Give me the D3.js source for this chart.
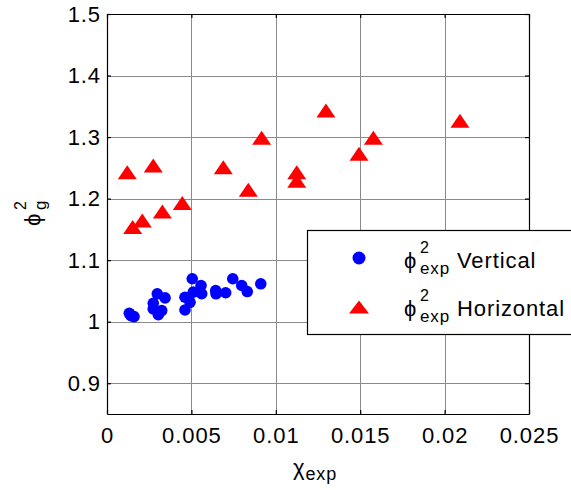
<!DOCTYPE html>
<html>
<head>
<meta charset="utf-8">
<script src="https://cdn.jsdelivr.net/npm/d3@7/dist/d3.min.js"></script>
<style>
  html, body { margin: 0; padding: 0; background: #fff; }
  svg { display: block; font-family: "Liberation Sans", Arial, sans-serif; }
</style>
</head>
<body>
<svg id="chart" width="571" height="490"></svg>
<script>
// Vertical flow: chi_exp vs phi^2
const verticalChi = [0.00132, 0.00160, 0.00142, 0.00298, 0.00344, 0.00274, 0.00274, 0.00324, 0.00304,
  0.00505, 0.00557, 0.00511, 0.00462, 0.00492, 0.00462, 0.00561, 0.00644, 0.00646, 0.00703,
  0.00745, 0.00798, 0.00831, 0.00911];
const verticalPhi = [1.0136, 1.0082, 1.0098, 1.0453, 1.0387, 1.0299, 1.0208, 1.0180, 1.0114,
  1.0698, 1.0588, 1.0480, 1.0397, 1.0315, 1.0191, 1.0454, 1.0507, 1.0453, 1.0470,
  1.0698, 1.0588, 1.0490, 1.0616];

// Horizontal flow: chi_exp vs phi^2
const horizontalChi = [0.00120, 0.00274, 0.00689, 0.00916, 0.01297, 0.00837, 0.01124, 0.01124,
  0.00446, 0.00328, 0.00209, 0.00152, 0.02091, 0.01578, 0.01493];
const horizontalPhi = [1.243, 1.254, 1.251, 1.299, 1.343, 1.2145, 1.243, 1.229,
  1.193, 1.179, 1.1645, 1.154, 1.3265, 1.299, 1.273];

const xTicks = [0, 0.005, 0.01, 0.015, 0.02, 0.025];
const xTickLabels = ["0", "0.005", "0.01", "0.015", "0.02", "0.025"];
const yTicks = [0.9, 1, 1.1, 1.2, 1.3, 1.4, 1.5];
const yTickLabels = ["0.9", "1", "1.1", "1.2", "1.3", "1.4", "1.5"];
const xDomain = [0, 0.025];
const yDomain = [0.85, 1.5];

const svg = d3.select("#chart");
const plotLeft = 107, plotRight = 529, plotTop = 14, plotBottom = 414;
const fontSize = 22, spacing = 0.9;

const x = d3.scaleLinear().domain(xDomain).range([plotLeft, plotRight]);
const y = d3.scaleLinear().domain(yDomain).range([plotBottom, plotTop]);

// grid
const grid = svg.append("g").attr("stroke", "#8a8a8a").attr("stroke-width", 1);
xTicks.slice(1, -1).forEach(t => {
  grid.append("line").attr("x1", Math.round(x(t)) + 0.5).attr("x2", Math.round(x(t)) + 0.5)
    .attr("y1", plotTop).attr("y2", plotBottom);
});
yTicks.slice(0, -1).forEach(t => {
  grid.append("line").attr("y1", Math.round(y(t)) + 0.5).attr("y2", Math.round(y(t)) + 0.5)
    .attr("x1", plotLeft).attr("x2", plotRight);
});

// axes (ticks pointing inward, mirrored on top and right)
const axB = svg.append("g").attr("transform", `translate(0,${plotBottom})`)
  .call(d3.axisBottom(x).tickValues(xTicks).tickFormat((d, i) => xTickLabels[i]).tickSizeInner(-4).tickSizeOuter(0).tickPadding(13));
const axL = svg.append("g").attr("transform", `translate(${plotLeft},0)`)
  .call(d3.axisLeft(y).tickValues(yTicks).tickFormat((d, i) => yTickLabels[i]).tickSizeInner(-4).tickSizeOuter(0).tickPadding(6));
const axT = svg.append("g").attr("transform", `translate(0,${plotTop})`)
  .call(d3.axisTop(x).tickValues(xTicks).tickFormat("").tickSizeInner(-4).tickSizeOuter(0));
const axR = svg.append("g").attr("transform", `translate(${plotRight},0)`)
  .call(d3.axisRight(y).tickValues(yTicks).tickFormat("").tickSizeInner(-4).tickSizeOuter(0));
[axB, axL, axT, axR].forEach(a => {
  a.selectAll("path.domain").attr("stroke", "#000").attr("stroke-width", 1.2);
  a.selectAll(".tick line").attr("stroke", "#000").attr("stroke-width", 1.2);
  a.selectAll("text").attr("font-size", fontSize).attr("fill", "#000")
    .attr("letter-spacing", spacing)
    .attr("font-family", "Liberation Sans, Arial, sans-serif");
});

// markers
const vData = verticalChi.map((c, i) => ({ c, p: verticalPhi[i] }));
const hData = horizontalChi.map((c, i) => ({ c, p: horizontalPhi[i] }));

const tri = (cx, cy, w, h) => `M${cx},${cy - h / 2}L${cx + w / 2},${cy + h / 2}L${cx - w / 2},${cy + h / 2}Z`;

svg.append("g").selectAll("path").data(hData).join("path")
  .attr("d", d => tri(x(d.c), y(d.p), 19, 14))
  .attr("fill", "#ff0000");

svg.append("g").selectAll("circle").data(vData).join("circle")
  .attr("cx", d => x(d.c)).attr("cy", d => y(d.p)).attr("r", 5.8)
  .attr("fill", "#0000ff");

// legend
const lg = svg.append("g");
lg.append("rect").attr("x", 307.5).attr("y", 230.5).attr("width", 280).attr("height", 104)
  .attr("fill", "#fff").attr("stroke", "#000").attr("stroke-width", 1.2);
lg.append("circle").attr("cx", 359).attr("cy", 258).attr("r", 6.5).attr("fill", "#0000ff");
lg.append("path").attr("d", tri(359, 307, 20, 13)).attr("fill", "#ff0000");

// phi with stacked superscript 2 and subscript "exp", followed by the label word
function legendLabel(yBase, word) {
  const t = lg.append("text").attr("y", yBase).attr("font-size", fontSize)
    .attr("letter-spacing", spacing);
  t.append("tspan").attr("x", 404).text("\u03D5");
  t.append("tspan").attr("x", 420).attr("dy", -15).attr("font-size", 16).text("2");
  t.append("tspan").attr("x", 420).attr("dy", 21).attr("font-size", 17).text("exp");
  t.append("tspan").attr("x", 457).attr("dy", -6).text(word);
}
legendLabel(268, "Vertical");
legendLabel(316, "Horizontal");

// axis titles
const xl = svg.append("text").attr("x", 293).attr("y", 475).attr("font-size", fontSize)
  .attr("letter-spacing", spacing);
xl.append("tspan").text("\u03C7");
xl.append("tspan").attr("dy", 5).attr("font-size", 18).text("exp");

const yl = svg.append("text").attr("transform", "translate(40,226) rotate(-90)")
  .attr("font-size", fontSize);
yl.append("tspan").attr("x", 0).attr("y", 0).text("\u03D5");
yl.append("tspan").attr("x", 16).attr("y", -14).attr("font-size", 16).text("2");
yl.append("tspan").attr("x", 16).attr("y", 6).attr("font-size", 17).text("g");
</script>
</body>
</html>
